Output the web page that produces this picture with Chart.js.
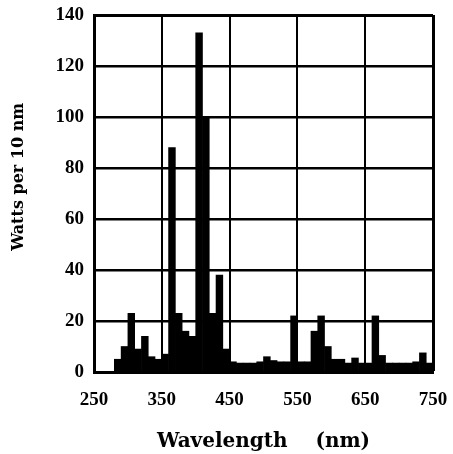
<!DOCTYPE html>
<html>
<head>
<meta charset="utf-8">
<script src="https://cdn.jsdelivr.net/npm/chart.js@4/dist/chart.umd.min.js"></script>
<style>
  html, body { margin: 0; padding: 0; background: #fff; }
  #wrap { width: 453px; height: 454px; }
</style>
</head>
<body>
<div id="wrap"><canvas id="spd"></canvas></div>
<script>
// band centres, 10 nm wide
const wavelengths = [255, 265, 275, 285, 295, 305, 315, 325, 335, 345,
                     355, 365, 375, 385, 395, 405, 415, 425, 435, 445,
                     455, 465, 475, 485, 495, 505, 515, 525, 535, 545,
                     555, 565, 575, 585, 595, 605, 615, 625, 635, 645,
                     655, 665, 675, 685, 695, 705, 715, 725, 735, 745];
const watts = [0, 0, 0, 5, 10, 23, 9, 14, 6, 5,
               7, 88, 23, 16, 14, 133, 100, 23, 38, 9,
               4, 3.5, 3.5, 3.5, 4, 6, 4.5, 4, 4, 22,
               4, 4, 16, 22, 10, 5, 5, 3.5, 5.5, 3.5,
               3.5, 22, 6.5, 3.5, 3.5, 3.5, 3.5, 4, 7.5, 3.5];
const xTicks = [250, 350, 450, 550, 650, 750];
const yTicks = [0, 20, 40, 60, 80, 100, 120, 140];

const tickFont = { family: 'Liberation Serif', weight: 'bold', size: 19 };

const spdChart = new Chart(document.getElementById('spd'), {
    type: 'bar',
    data: {
        datasets: [{
            data: wavelengths.map((w, i) => ({ x: w, y: watts[i] })),
            backgroundColor: '#000',
            borderWidth: 0,
            barPercentage: 1,
            categoryPercentage: 1
        }]
    },
    options: {
        responsive: true,
        maintainAspectRatio: false,
        animation: false,
        layout: { padding: { left: 0, right: 20, top: 15, bottom: 0 } },
        plugins: { legend: { display: false }, tooltip: { enabled: false } },
        scales: {
            x: {
                type: 'linear',
                min: 250,
                max: 750,
                offset: false,
                afterBuildTicks: axis => { axis.ticks = xTicks.map(v => ({ value: v })); },
                afterFit: axis => {
                    axis.height = 82;
                    axis.paddingLeft = 0;
                    axis.paddingRight = 0;
                },
                grid: {
                    offset: false,
                    color: '#000',
                    lineWidth: c => (c.tick && c.tick.value === 750 ? 3 : 2),
                    drawTicks: false
                },
                border: { display: true, color: '#000', width: 3 },
                ticks: { color: '#000', font: tickFont, padding: 17, maxRotation: 0 },
                title: {
                    display: true,
                    text: 'Wavelength    (nm)',
                    color: '#000',
                    font: { family: 'DejaVu Serif', weight: 'bold', size: 20 },
                    padding: { top: 0, bottom: 0 }
                }
            },
            y: {
                min: 0,
                max: 140,
                afterBuildTicks: axis => { axis.ticks = yTicks.map(v => ({ value: v })); },
                afterFit: axis => {
                    axis.width = 94;
                    axis.paddingTop = 0;
                    axis.paddingBottom = 0;
                },
                grid: {
                    color: '#000',
                    lineWidth: c => (c.tick && c.tick.value === 140 ? 3 : 2.5),
                    drawTicks: false
                },
                border: { display: true, color: '#000', width: 3 },
                ticks: { color: '#000', font: tickFont, padding: 10 },
                title: {
                    display: true,
                    // leading spaces lift the label a bit, like the original
                    text: '      Watts per 10 nm',
                    color: '#000',
                    font: { family: 'DejaVu Serif', weight: 'bold', size: 16 },
                    padding: { top: 9, bottom: 0 }
                }
            }
        }
    }
});
</script>
</body>
</html>
